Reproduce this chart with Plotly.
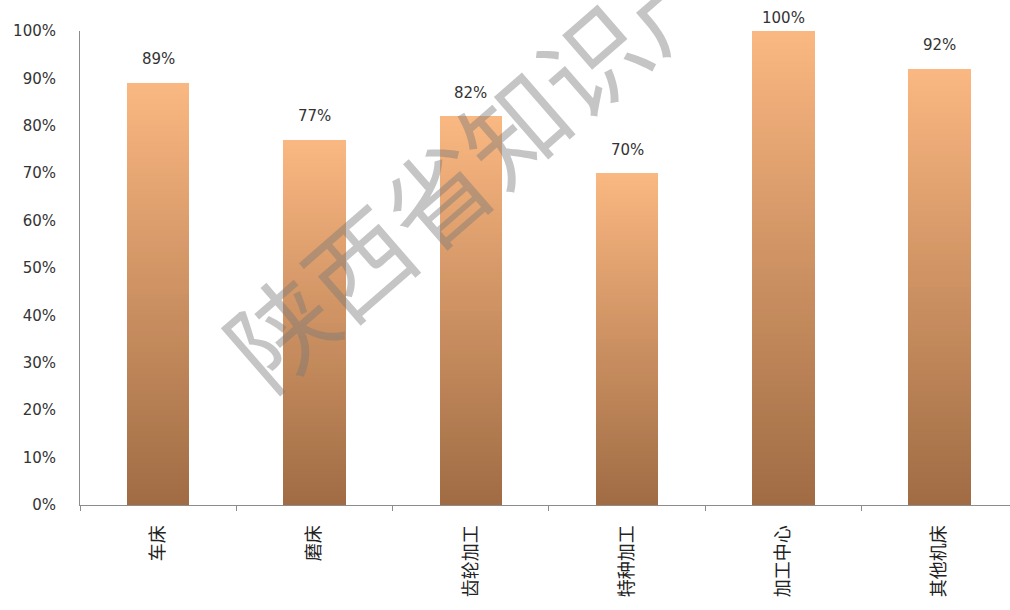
import plotly.graph_objects as go

# Machine-tool categories and their shares
categories = ["车床", "磨床", "齿轮加工", "特种加工", "加工中心", "其他机床"]
shares = [0.89, 0.77, 0.82, 0.70, 1.00, 0.92]
label_texts = ["89%", "77%", "82%", "70%", "100%", "92%"]
y_tick_vals = [i / 10 for i in range(11)]
y_tick_text = [f"{i * 10}%" for i in range(11)]

Y_MIN, Y_MAX = 0.0, 1.0

# Vertical gradient: light peach at the top of each bar, brown at the base
TOP_RGB = (250, 183, 129)
BASE_RGB = (160, 108, 68)
N_STEPS = 80

fig = go.Figure()
for k in range(N_STEPS):
    t = (k + 0.5) / N_STEPS  # 0 at base, 1 at top
    rgb = tuple(round(b + (tp - b) * t) for b, tp in zip(BASE_RGB, TOP_RGB))
    fig.add_trace(go.Bar(
        x=categories,
        y=[v / N_STEPS for v in shares],
        marker=dict(color=f"rgb{rgb}", line=dict(width=0)),
        showlegend=False,
        hoverinfo="skip",
    ))

# Value labels above bars (held just inside the top edge of the page)
for cat, v, txt in zip(categories, shares, label_texts):
    label_y = min(v + 0.05, 1.027)
    fig.add_annotation(
        x=cat, xref="x",
        y=(label_y - Y_MIN) / (Y_MAX - Y_MIN), yref="paper",
        text=txt, showarrow=False,
        font=dict(family="DejaVu Sans", size=15, color="#333333"),
        xanchor="center", yanchor="middle",
    )

# Diagonal watermark
fig.add_annotation(
    x=0.506, y=0.872, xref="paper", yref="paper",
    text="陕西省知识产权局", showarrow=False, textangle=-41,
    font=dict(family="Noto Sans CJK SC", size=103, color="rgba(120,120,120,0.43)"),
    xanchor="center", yanchor="middle",
)

fig.update_layout(
    width=1010, height=610,
    margin=dict(l=80, r=0, t=31, b=105),
    paper_bgcolor="white", plot_bgcolor="white",
    barmode="stack", bargap=0.6,
    xaxis=dict(
        type="category",
        range=[-0.5, 5.45],
        showline=True, linecolor="#8c8c8c", linewidth=1,
        ticks="outside", tickson="boundaries", ticklen=5, tickcolor="#8c8c8c",
        tickangle=-90, ticklabelstandoff=12,
        tickfont=dict(family="Noto Sans CJK SC", size=18, color="#222222"),
        showgrid=False, zeroline=False,
    ),
    yaxis=dict(
        range=[Y_MIN, Y_MAX],
        tickvals=y_tick_vals, ticktext=y_tick_text,
        showline=True, linecolor="#8c8c8c", linewidth=1,
        ticks="", ticklabelstandoff=20,
        tickfont=dict(family="DejaVu Sans", size=15, color="#333333"),
        showgrid=False, zeroline=False,
    ),
)

fig.write_html("out.html")
